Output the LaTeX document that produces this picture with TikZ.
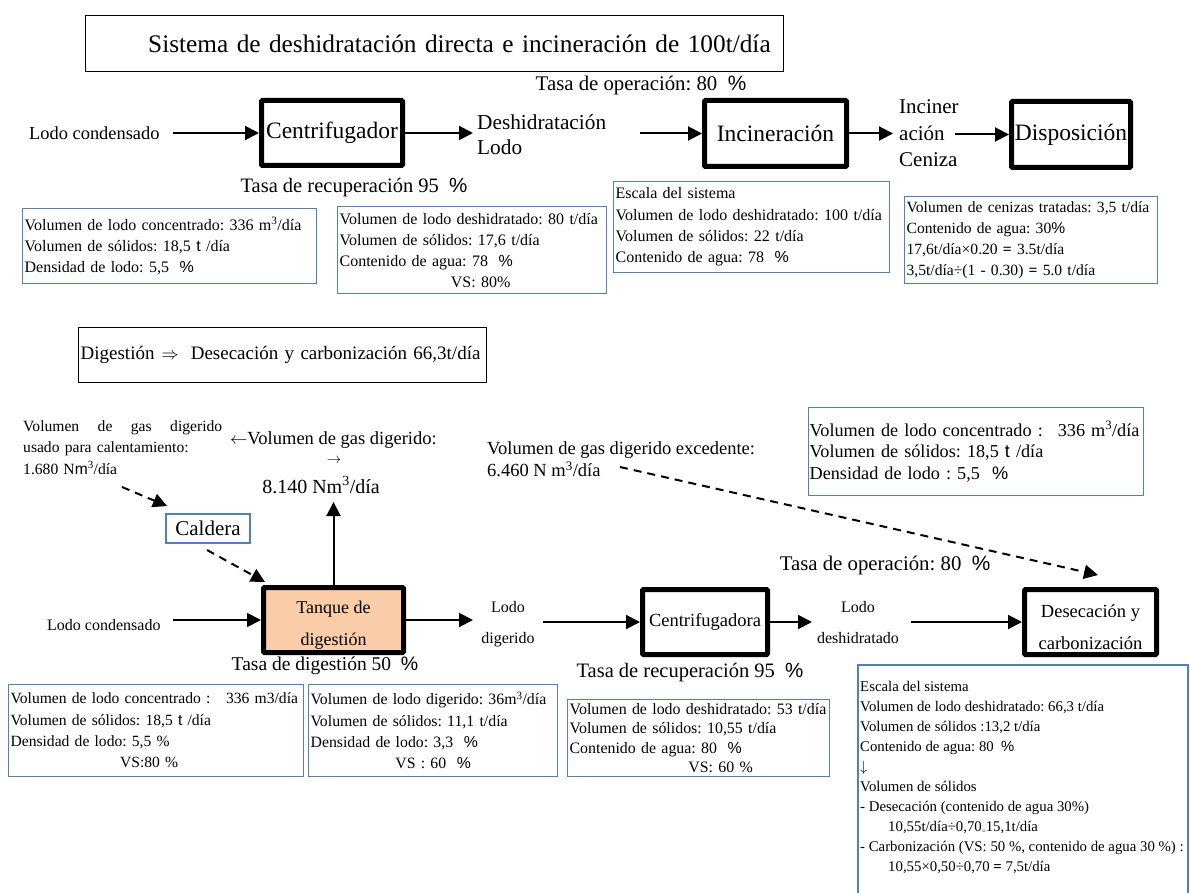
\documentclass[tikz,border=0pt]{standalone}
\usepackage{fontspec}
\setmainfont{Liberation Serif}
\setsansfont{Liberation Sans}
\usetikzlibrary{arrows.meta}
\definecolor{boxblue}{RGB}{79,129,189}
\definecolor{peach}{RGB}{250,204,168}
\newcommand{\myfs}[2]{\fontsize{#1}{#2}\selectfont\frenchspacing}
\newcommand{\spc}{{\sffamily\%}}
\newcommand{\sst}{{\sffamily t}}
\newcommand{\cube}{\textsuperscript{3}}
\begin{document}
\begin{tikzpicture}[x=1pt,y=-1pt,
  procbox/.style={draw, line width=5pt, rounded corners=1pt, inner sep=0pt, align=center},
  titlebox/.style={draw, line width=1.3pt, inner ysep=0pt, anchor=north west},
  infobox/.style={draw=boxblue, line width=1.2pt, inner xsep=2pt, inner ysep=0pt, anchor=north west, align=left},
  calbox/.style={draw=boxblue, line width=1.2pt, inner sep=0pt},
  flow/.style={line width=2pt, -{Triangle[length=14pt,width=14pt]}},
  dflow/.style={line width=2pt, dash pattern=on 8pt off 6pt, -{Triangle[length=14pt,width=14pt]}},
  lbl/.style={inner sep=0pt}
]
\useasboundingbox (0,0) rectangle (1190,893);
\fill[white] (0,0) rectangle (1190,893);

% ---------------- top system ----------------
\node[titlebox, minimum height=56pt, text width=672pt, inner xsep=13pt, align=right, font=\myfs{25.3}{29}] (t1) at (85,15)
  {Sistema de deshidratación directa e incineración de 100t/día};

\node[lbl, anchor=west, font=\myfs{18.4}{22}] (lc1) at (29,133) {Lodo condensado};
\node[procbox, minimum width=141pt, minimum height=65pt, font=\myfs{23.5}{28}] (cen1) at (332,133) {Centrifugador};
\node[lbl, font=\myfs{20.5}{24}] (rec1) at (354,188) {Tasa de recuperación 95 \ \spc};
\node[lbl, anchor=west, align=left, font=\myfs{21.3}{25}] (dl1) at (477,134.5) {Deshidratación\\Lodo};
\node[lbl, font=\myfs{20.8}{24}] (op1) at (641,85) {Tasa de operación: 80 \ \spc};
\node[procbox, minimum width=142pt, minimum height=66pt, font=\myfs{23.5}{28}] (inc) at (775.5,133.5) {Incineración};
\node[lbl, anchor=west, align=left, font=\myfs{21}{26.5}] (ash) at (899,133.5) {Inciner\\ación\\Ceniza};
\node[procbox, minimum width=119pt, minimum height=66pt, font=\myfs{23.5}{28}] (dis) at (1071,134.5) {Disposición};

\coordinate (a1s) at (173,133);
\draw[flow] (a1s) -- (cen1.west);
\coordinate (a2e) at (473,133);
\draw[flow] (cen1.east) -- (a2e);
\coordinate (a3s) at (640,133.5);
\draw[flow] (a3s) -- (inc.west);
\coordinate (a4e) at (893,133.5);
\draw[flow] (inc.east) -- (a4e);
\coordinate (a5s) at (955,134.5);
\draw[flow] (a5s) -- (dis.west);

\node[infobox, minimum height=75pt, text width=290pt, font=\myfs{16}{21}] (iA) at (22,208)
  {\mbox{Volumen de lodo concentrado: 336 m\cube/día}\\
   Volumen de sólidos: 18,5 \sst{} /día\\
   Densidad de lodo: 5,5 \ \spc};
\node[infobox, minimum height=87pt, text width=265pt, font=\myfs{16}{21}] (iB) at (337,206)
  {\mbox{Volumen de lodo deshidratado: 80 t/día}\\
   Volumen de sólidos: 17,6 t/día\\
   Contenido de agua: 78 \ \spc\\
   \makebox[265pt]{\hspace{17pt}VS: 80\%}};
\node[infobox, minimum height=91pt, text width=272pt, font=\myfs{16}{21.3}] (iC) at (613,181)
  {Escala del sistema\\
   \mbox{Volumen de lodo deshidratado: 100 t/día}\\
   Volumen de sólidos: 22 t/día\\
   Contenido de agua: 78 \ \spc};
\node[infobox, minimum height=87pt, text width=249pt, font=\myfs{15.6}{21}] (iD) at (904,196)
  {\mbox{Volumen de cenizas tratadas: 3,5 t/día}\\
   Contenido de agua: 30\spc\\
   17,6t/día×0.20 \textbf{=} 3.5t/día\\
   \mbox{3,5t/día÷(1 - 0.30) \textbf{=} 5.0 t/día}};

% ---------------- bottom system ----------------
\node[titlebox, minimum height=55pt, text width=404pt, inner xsep=2pt, align=left, font=\myfs{19}{23}] (t2) at (78,327)
  {Digestión\hspace{7pt}$\Rightarrow$\hspace{12pt}Desecación y carbonización 66,3t/día};

\node[lbl, anchor=north west, text width=199pt, align=left, font=\myfs{15.6}{21.5}] (heat) at (23,420)
  {\makebox[199pt][l]{Volumen\hfill de\hfill gas\hfill digerido}\\
   usado para calentamiento:\\
   1.680 N{\sffamily m}\cube/día};
\node[lbl, anchor=west, font=\myfs{18.5}{22}] (gasl) at (230,440) {$\leftarrow$Volumen de gas digerido:};
\node[lbl, font=\myfs{15}{16}] (gasarr) at (334,461) {$\rightarrow$};
\node[lbl, font=\myfs{20}{24}] (gasv) at (321,485) {8.140 Nm\cube/día};
\node[lbl, anchor=west, align=left, font=\myfs{18.5}{22}] (exc) at (487,459)
  {Volumen de gas digerido excedente:\\6.460 N m\cube/día};
\node[infobox, minimum height=88pt, text width=333pt, inner xsep=1pt, font=\myfs{18.2}{21.5}] (iG) at (808,407)
  {\mbox{Volumen de lodo concentrado :\hspace{15pt}336 m\cube/día}\\
   Volumen de sólidos: 18,5 \sst{} /día\\
   Densidad de lodo : 5,5 \ \spc};

\node[calbox, minimum width=84pt, minimum height=29pt, font=\myfs{21}{24}] (cal) at (208,528.5) {Caldera};
\node[lbl, anchor=west, font=\myfs{16}{20}] (lc2) at (47,625) {Lodo condensado};
\node[procbox, fill=peach, minimum width=140pt, minimum height=65pt] (tank) at (333.5,620) {};
\node[lbl, align=center, font=\myfs{18}{32}] (tanktxt) at (333.5,625.5) {Tanque de\\digestión};
\node[lbl, font=\myfs{19.5}{23}] (dig) at (325,666) {Tasa de digestión 50 \ \spc};
\node[lbl, align=center, font=\myfs{16}{31}] (ld) at (508,624.5) {Lodo\\digerido};
\node[procbox, minimum width=125pt, minimum height=65pt, font=\myfs{18.5}{22}] (cen2) at (705,622) {Centrifugadora};
\node[lbl, font=\myfs{20.5}{24}] (rec2) at (690,673) {Tasa de recuperación 95 \ \spc};
\node[lbl, align=center, font=\myfs{16}{31}] (ldh) at (858,622.5) {Lodo\\deshidratado};
\node[lbl, font=\myfs{20.8}{24}] (op2) at (885,565) {Tasa de operación: 80 \ \spc};
\node[procbox, minimum width=132pt, minimum height=65pt] (dry) at (1090.5,622) {};
\node[lbl, align=center, font=\myfs{18.5}{32}] (drytxt) at (1090.5,627.5) {Desecación y\\carbonización};

\coordinate (h1) at (122,487);
\coordinate (h2) at (167,506);
\draw[dflow] (h1) -- (h2);
\coordinate (c1) at (207,550);
\coordinate (c2) at (265,582);
\draw[dflow] (c1) -- (c2);
\coordinate (up) at (333.5,502);
\draw[flow] (tank.north) -- (up);
\coordinate (b1) at (173,620);
\draw[flow] (b1) -- (tank.west);
\coordinate (b2) at (473,620);
\draw[flow] (tank.east) -- (b2);
\coordinate (b3) at (543,622);
\draw[flow] (b3) -- (cen2.west);
\coordinate (b4) at (812,622);
\draw[flow] (cen2.east) -- (b4);
\coordinate (b5) at (911,622);
\draw[flow] (b5) -- (dry.west);
\coordinate (e1) at (620,467);
\coordinate (e2) at (1098,575);
\draw[dflow] (e1) -- (e2);

\node[infobox, minimum height=92pt, text width=291pt, font=\myfs{15.6}{21.3}] (bA) at (8,684)
  {\mbox{Volumen de lodo concentrado :\quad 336 m3/día}\\
   Volumen de sólidos: 18,5 \sst{} /día\\
   Densidad de lodo: 5,5 \%\\
   \makebox[291pt]{VS:80 \%\hspace{14pt}}};
\node[infobox, minimum height=92pt, text width=245pt, font=\myfs{15.8}{21.3}] (bB) at (308,684)
  {\mbox{Volumen de lodo digerido: 36m\cube/día}\\
   Volumen de sólidos: 11,1 t/día\\
   Densidad de lodo: 3,3 \ \spc\\
   \makebox[245pt]{VS : 60 \ \spc}};
\node[infobox, minimum height=77pt, text width=258pt, font=\myfs{15.9}{19.5}] (bC) at (567,699)
  {\mbox{Volumen de lodo deshidratado: 53 t/día}\\
   Volumen de sólidos: 10,55 t/día\\
   Contenido de agua: 80 \ \spc\\
   \makebox[258pt]{\hspace{44pt}VS: 60 \%}};

\draw[draw=boxblue, line width=1.2pt] (858,665) rectangle (1188,910);
\node[lbl, anchor=north west, align=left, font=\myfs{14.8}{20}] (bE) at (860,681)
  {Escala del sistema\\
   Volumen de lodo deshidratado: 66,3 t/día\\
   Volumen de sólidos :13,2 t/día\\
   Contenido de agua: 80 \ \spc\\
   $\downarrow$\\
   Volumen de sólidos\\
   - Desecación (contenido de agua 30\%)\\
   \hspace*{28pt}10,55t/día÷0,70\raisebox{-2pt}{\scriptsize =}15,1t/día\\
   - Carbonización (VS: 50 \%, contenido de agua 30 \%) :\\
   \hspace*{28pt}10,55×0,50÷0,70 \textbf{=} 7,5t/día};
\end{tikzpicture}
\end{document}
